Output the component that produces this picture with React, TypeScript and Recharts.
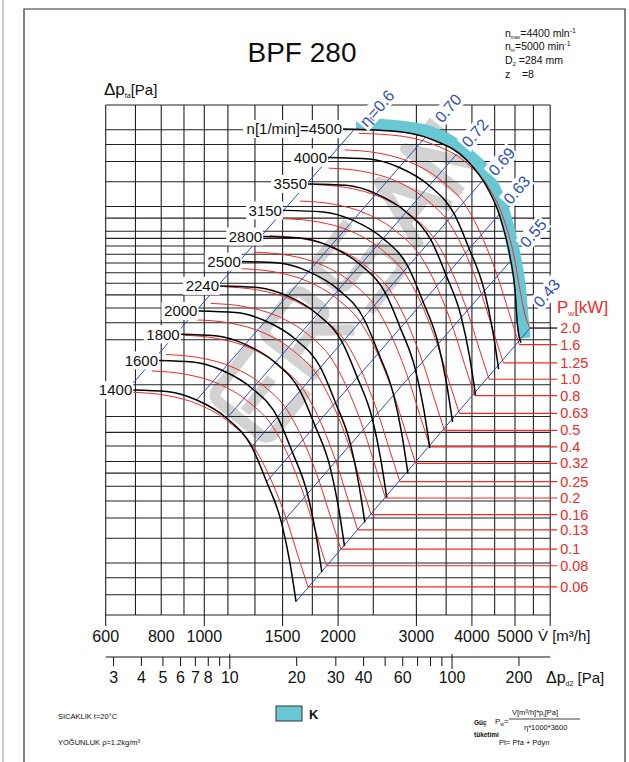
import React from 'react';
import { LineChart, Line, XAxis, YAxis, CartesianGrid, ReferenceLine, ReferenceDot } from 'recharts';

type Pt = [number, number];

// fan speed curves, points as [V m3/h, dp_fa Pa]
const n1400: Pt[] = [[692, 190.7], [823, 188.1], [961, 174.2], [1123, 147.7], [1278, 114.3], [1381, 83.3], [1493, 57.2], [1559, 39.9], [1608, 28.2]];
const n1600: Pt[] = [[791, 249.1], [941, 245.7], [1099, 227.5], [1283, 192.9], [1461, 149.3], [1578, 108.8], [1706, 74.7], [1782, 52.1], [1838, 36.8]];
const n1800: Pt[] = [[885, 315.2], [1058, 310.9], [1236, 288.0], [1444, 244.2], [1643, 188.9], [1776, 137.7], [1920, 94.6], [2004, 66.0], [2067, 46.6]];
const n2000: Pt[] = [[970, 389.2], [1176, 383.9], [1374, 355.5], [1604, 301.4], [1826, 233.3], [1973, 170.0], [2133, 116.7], [2227, 81.4], [2297, 57.6]];
const n2240: Pt[] = [[1085, 488.2], [1317, 481.5], [1538, 446.0], [1797, 378.1], [2045, 292.6], [2210, 213.2], [2389, 146.4], [2494, 102.1], [2573, 72.2]];
const n2500: Pt[] = [[1214, 608.1], [1470, 599.8], [1717, 555.5], [2005, 471.0], [2282, 364.5], [2466, 265.6], [2666, 182.4], [2784, 127.2], [2871, 89.9]];
const n2800: Pt[] = [[1356, 762.8], [1646, 752.4], [1923, 696.8], [2246, 590.8], [2556, 457.2], [2762, 333.2], [2986, 228.8], [3118, 159.6], [3216, 112.8]];
const n3150: Pt[] = [[1503, 965.4], [1852, 952.3], [2163, 881.9], [2527, 747.7], [2876, 578.6], [3107, 421.7], [3359, 289.6], [3508, 202.0], [3618, 142.8]];
const n3550: Pt[] = [[1711, 1226], [2087, 1210], [2438, 1120], [2848, 949.7], [3241, 734.9], [3502, 535.6], [3786, 367.8], [3953, 256.6], [4077, 181.3]];
const n4000: Pt[] = [[1898, 1557], [2351, 1536], [2747, 1422], [3209, 1206], [3651, 933.1], [3946, 680.0], [4266, 466.9], [4454, 325.7], [4594, 230.2]];
const n4500: Pt[] = [[2052, 2013], [2756, 1965], [3275, 1823], [3893, 1521], [4318, 1196], [4626, 912], [4872, 636], [5000, 470], [5060, 348], [5155, 292]];

const speedCurves = [
  { label: '1400', pts: n1400 },
  { label: '1600', pts: n1600 },
  { label: '1800', pts: n1800 },
  { label: '2000', pts: n2000 },
  { label: '2240', pts: n2240 },
  { label: '2500', pts: n2500 },
  { label: '2800', pts: n2800 },
  { label: '3150', pts: n3150 },
  { label: '3550', pts: n3550 },
  { label: '4000', pts: n4000 },
  { label: 'n[1/min]=4500', pts: n4500 },
];

// shaft power lines (kW)
const pw006: Pt[] = [[692, 186.8], [823, 181.5], [978, 166.5], [1143, 141.6], [1300, 111.9], [1420, 83.1], [1535, 58.4], [1625, 42.6], [1711, 32.2]];
const pw008: Pt[] = [[762, 226.3], [906, 219.9], [1076, 201.7], [1257, 171.5], [1431, 135.6], [1563, 100.7], [1689, 70.7], [1789, 51.6], [1883, 39.0]];
const pw010: Pt[] = [[820, 262.6], [976, 255.1], [1160, 234.1], [1355, 199.0], [1542, 157.3], [1684, 116.8], [1820, 82.1], [1927, 59.9], [2029, 45.3]];
const pw013: Pt[] = [[895, 312.8], [1065, 303.9], [1266, 278.8], [1478, 237.1], [1683, 187.4], [1838, 139.2], [1986, 97.8], [2103, 71.3], [2214, 53.9]];
const pw016: Pt[] = [[960, 359.2], [1141, 349.0], [1356, 320.2], [1584, 272.3], [1803, 215.2], [1969, 159.8], [2128, 112.3], [2253, 81.9], [2373, 61.9]];
const pw020: Pt[] = [[1034, 416.8], [1229, 405.0], [1461, 371.5], [1707, 316.0], [1942, 249.7], [2121, 185.4], [2293, 130.3], [2427, 95.1], [2556, 71.9]];
const pw025: Pt[] = [[1114, 483.7], [1324, 470.0], [1574, 431.1], [1838, 366.6], [2092, 289.7], [2285, 215.2], [2470, 151.2], [2615, 110.3], [2753, 83.4]];
const pw032: Pt[] = [[1209, 570.2], [1438, 554.1], [1709, 508.3], [1996, 432.3], [2272, 341.6], [2481, 253.7], [2682, 178.3], [2839, 130.0], [2990, 98.3]];
const pw040: Pt[] = [[1302, 661.7], [1549, 642.9], [1841, 589.8], [2150, 501.6], [2447, 396.4], [2673, 294.4], [2889, 206.9], [3058, 150.9], [3220, 114.1]];
const pw050: Pt[] = [[1403, 767.8], [1669, 746.1], [1983, 684.4], [2316, 582.0], [2636, 460.0], [2879, 341.6], [3112, 240.1], [3295, 175.1], [3469, 132.4]];
const pw063: Pt[] = [[1515, 895.7], [1802, 870.3], [2142, 798.4], [2502, 679.0], [2847, 536.6], [3110, 398.5], [3361, 280.0], [3558, 204.3], [3747, 154.4]];
const pw080: Pt[] = [[1641, 1050], [1952, 1021], [2319, 936.2], [2709, 796.2], [3083, 629.2], [3367, 467.3], [3639, 328.4], [3853, 239.5], [4057, 181.1]];
const pw100: Pt[] = [[1768, 1219], [2102, 1184], [2498, 1086], [2918, 923.9], [3321, 730.1], [3627, 542.2], [3921, 381.1], [4151, 278.0], [4371, 210.1]];
const pw125: Pt[] = [[1904, 1414], [2265, 1374], [2691, 1261], [3144, 1072], [3578, 847.3], [3907, 629.2], [4223, 442.2], [4472, 322.6], [4708, 243.8]];
const pw160: Pt[] = [[2067, 1667], [2459, 1620], [2922, 1486], [3413, 1264], [3885, 998.8], [4242, 741.7], [4585, 521.3], [4855, 380.2], [5112, 287.4]];
const pw200: Pt[] = [[2228, 1935], [2756, 1890], [3275, 1751], [3893, 1480], [4370, 1182], [4699, 909.3], [4974, 639.6], [5131, 470.4], [5266, 375.3], [5404, 333.6]];

const powerCurves = [
  { kw: '0.06', pts: pw006 },
  { kw: '0.08', pts: pw008 },
  { kw: '0.1', pts: pw010 },
  { kw: '0.13', pts: pw013 },
  { kw: '0.16', pts: pw016 },
  { kw: '0.2', pts: pw020 },
  { kw: '0.25', pts: pw025 },
  { kw: '0.32', pts: pw032 },
  { kw: '0.4', pts: pw040 },
  { kw: '0.5', pts: pw050 },
  { kw: '0.63', pts: pw063 },
  { kw: '0.8', pts: pw080 },
  { kw: '1.0', pts: pw100 },
  { kw: '1.25', pts: pw125 },
  { kw: '1.6', pts: pw160 },
  { kw: '2.0', pts: pw200 },
];

// efficiency lines (system parabolas)
const eta060: Pt[] = [[692, 203.1], [2173, 2004]];
const eta070: Pt[] = [[961.5, 174.2], [3134, 1858]];
const eta072: Pt[] = [[1123, 147.7], [3697, 1606]];
const eta069: Pt[] = [[1278, 114.3], [4221, 1260]];
const eta063: Pt[] = [[1381, 83.3], [4602, 930.1]];
const eta055: Pt[] = [[1493, 57.2], [4887, 611.5]];
const eta043: Pt[] = [[1608, 28.2], [5404, 333.6]];
const etaLabelAt: Pt[] = [[2443, 2427], [3539, 2427], [4064, 1937], [4667, 1498], [5044, 1160], [5497, 785], [5892, 457]];
const etaNames = ['0.6', '0.70', '0.72', '0.69', '0.63', '0.55', '0.43'];
const etaLines = [eta060, eta070, eta072, eta069, eta063, eta055, eta043];

// K zone band
const kBand: Pt[] = [[2194, 2106], [2756, 2059], [3275, 1942], [3893, 1620], [4393, 1270], [4723, 951], [4974, 663], [5131, 479], [5212, 352], [5252, 305]];

// axes
const flowGrid = [600, 700, 800, 900, 1000, 1130, 1300, 1500, 1750, 2000, 2400, 3000, 3500, 4000, 4500, 5000, 5500, 6000];
const flowLabels = [600, 800, 1000, 1500, 2000, 3000, 4000, 5000];
const flowMajor = [600, 1000, 1500, 2000, 3000, 4000, 5000, 6000];
const pressGrid = [25, 30, 35, 40, 50, 60, 70, 80, 90, 100, 115, 130, 150, 200, 300, 350, 400, 450, 500, 550, 600, 650, 700, 750, 800, 900, 1000, 1250, 1500, 1750, 2000, 2500];
const pressLabels = [30, 40, 50, 60, 80, 100, 200, 300, 400, 500, 600, 800, 1000, 1500, 2000];
const dynTicks = [3, 4, 5, 6, 7, 8, 9, 10, 20, 30, 40, 50, 60, 70, 80, 90, 100, 200];
const dynLabels = [3, 4, 5, 6, 7, 8, 10, 20, 30, 40, 60, 100, 200];

const FONT = '"Liberation Sans", Arial, Helvetica, sans-serif';
const PLOT_L = 105.7;
const LEADER_END = 6220;
const RED = '#ee2a2a';
const BLUE = '#2e4fae';
const CYAN = '#67c8d4';
const MARK = '#d2d2d2';

const LONG_Y = [1000, 100, 80, 60, 50, 40, 30];
const SHORT_Y = [2000, 1500, 800, 600, 500, 400];
const STUB_Y = [900, 700, 90, 70];

const rows = (pts: Pt[]) => pts.map(([q, p]) => ({ q, p }));

const YTick = (props: any) => {
  const { y, payload } = props;
  const v = payload.value;
  const len = LONG_Y.includes(v) ? 17 : SHORT_Y.includes(v) ? 10 : STUB_Y.includes(v) ? 9 : 0;
  return (
    <g>
      {len > 0 && <line x1={PLOT_L - len} x2={PLOT_L} y1={y} y2={y} stroke="#111" />}
      {pressLabels.includes(v) && (
        <text x={PLOT_L - Math.max(len, 13) - 1} y={y} textAnchor="end" dominantBaseline="central" fontSize={16} fontFamily={FONT} fill="#111">
          {v}
        </text>
      )}
    </g>
  );
};

const XTick = (props: any) => {
  const { x, y, payload } = props;
  const v = payload.value;
  return (
    <g>
      {flowMajor.includes(v) && <line x1={x} x2={x} y1={y} y2={y + 11} stroke="#111" />}
      {flowLabels.includes(v) && (
        <text x={x} y={y + 21} textAnchor="middle" dominantBaseline="central" fontSize={16} fontFamily={FONT} fill="#111">
          {v}
        </text>
      )}
    </g>
  );
};

const PdTick = (props: any) => {
  const { x, y, payload } = props;
  const v = payload.value;
  const big = v === 10 || v === 100;
  return (
    <g>
      <line x1={x} x2={x} y1={big ? y - 3 : y} y2={big ? y + 12 : y + 9} stroke="#111" />
      {dynLabels.includes(v) && (
        <text x={x} y={y + 20} textAnchor="middle" dominantBaseline="central" fontSize={16} fontFamily={FONT} fill="#111">
          {v}
        </text>
      )}
    </g>
  );
};

// faint logo watermark behind the chart
const Watermark = () => (
  <g transform="translate(342,288) rotate(-52) scale(0.85)" fill="none" stroke={MARK} strokeWidth={13} strokeLinejoin="round">
    <path d="M-120,-42 L-185,-42 Q-195,-42 -195,-30 L-195,30 Q-195,42 -183,42 L-120,42" />
    <path d="M-185,0 L-135,0" />
    <path d="M-100,42 L-100,-30 Q-100,-42 -88,-42 L-45,-42 Q-33,-42 -33,-30 L-33,-8 Q-33,4 -45,4 L-95,4 M-60,4 L-30,42" />
    <path d="M65,-42 L10,-42 Q-2,-42 -2,-30 L-2,-10 Q-2,2 10,2 L55,2 Q67,2 67,14 L67,30 Q67,42 55,42 L-2,42" />
    <path d="M95,42 L125,-42 L155,42 M108,12 L142,12" />
    <path d="M175,42 L175,-42 L215,42 L215,-42" />
  </g>
);

const Overlay = () => (
  <svg width={629} height={762} style={{ position: 'absolute', left: 0, top: 0 }} fontFamily={FONT}>
    <line x1={3} y1={0} x2={3} y2={762} stroke="#999" />
    <polyline points="24,762 24,9 625,9 625,762" fill="none" stroke="#333" strokeWidth={1.2} />
    <Watermark />
    <text x={302} y={62} fontSize={28} textAnchor="middle" fill="#111">BPF 280</text>
    <g fontSize={10.5} fill="#111">
      <text x={505} y={37}>n<tspan fontSize={5} dy={2}>max</tspan><tspan dy={-2}>=4400 mln</tspan><tspan fontSize={7} dy={-4}>-1</tspan></text>
      <text x={505} y={50}>n<tspan fontSize={5} dy={2}>m</tspan><tspan dy={-2}>=5000 min</tspan><tspan fontSize={7} dy={-4}>-1</tspan></text>
      <text x={505} y={64}>D<tspan fontSize={6} dy={2}>2</tspan><tspan dy={-2}> =284 mm</tspan></text>
      <text x={505} y={78} style={{ whiteSpace: 'pre' }}>z    =8</text>
    </g>
    <text x={104} y={95} fontSize={17} fill="#111">Δp<tspan fontSize={7} dy={3}>fa</tspan><tspan fontSize={15} dy={-3}>[Pa]</tspan></text>
    <text x={557} y={313} fontSize={17} fill={RED}>P<tspan fontSize={8} dy={3}>w</tspan><tspan dy={-3}>[kW]</tspan></text>
    <text x={538} y={641} fontSize={15} fill="#111">V̇ [m³/h]</text>
    <text x={546} y={683} fontSize={16} fill="#111">Δp<tspan fontSize={7} dy={3}>d2</tspan><tspan fontSize={15} dy={-3}> [Pa]</tspan></text>
    <g fontSize={7.5} fill="#111">
      <text x={58} y={719}>SICAKLIK t=20°C</text>
      <text x={58} y={745}>YOĞUNLUK ρ=1.2kg/m³</text>
    </g>
    <rect x={276} y={706} width={26} height={15} fill={CYAN} stroke="#333" />
    <text x={309} y={719} fontSize={13} fontWeight="bold" fill="#111">K</text>
    <g fill="#111">
      <text x={474} y={725} fontSize={6.5} fontWeight="bold">Güç</text>
      <text x={474} y={737} fontSize={6.5} fontWeight="bold">tüketimi</text>
      <text x={495} y={724} fontSize={8}>P<tspan fontSize={5} dy={2}>w</tspan><tspan dy={-2}>=</tspan></text>
      <text x={512} y={715} fontSize={7.5}>V[m³/h]*p<tspan fontSize={5} dy={2}>t</tspan><tspan dy={-2}>[Pa]</tspan></text>
      <line x1={509} x2={580} y1={719} y2={719} stroke="#111" strokeWidth={0.8} />
      <text x={524} y={730} fontSize={7.5}>η*1000*3600</text>
      <text x={499} y={745} fontSize={7.5}>Pt= Pfa + Pdyn</text>
    </g>
  </svg>
);

const speedLabel = (label: string) => (p: any) => {
  const w = label.length > 5 ? 97 : label.length * 8.5;
  return (
    <g>
      <rect x={p.cx - w - 3} y={p.cy - 9} width={w + 3} height={18} fill="#fff" />
      <text x={p.cx - 1} y={p.cy} textAnchor="end" dominantBaseline="central" fontSize={15} fontFamily={FONT} fill="#111">
        {label}
      </text>
    </g>
  );
};

const etaLabel = (label: string, first: boolean) => (p: any) => {
  const w = first ? 46 : 34;
  return (
    <g transform={`translate(${p.cx},${p.cy}) rotate(-49)`}>
      <rect x={-w / 2} y={-9} width={w} height={18} fill="#fff" />
      <text textAnchor="middle" dominantBaseline="central" fontSize={16} fontFamily={FONT} fill={BLUE}>
        {first ? (
          <>
            η<tspan fontSize={8} dy={3}>t</tspan>
            <tspan dy={-3}>={label}</tspan>
          </>
        ) : (
          label
        )}
      </text>
    </g>
  );
};

const kwLabel = (kw: string) => (p: any) => (
  <text x={p.cx + 3} y={p.cy} dominantBaseline="central" fontSize={14.5} fontFamily={FONT} fill={RED}>
    {kw}
  </text>
);

export default function App() {
  return (
    <div style={{ position: 'absolute', left: 0, top: 0, width: 629, height: 762, background: '#fff' }}>
      <Overlay />
      <div style={{ position: 'absolute', left: 0, top: 0 }}>
        <LineChart width={629} height={700} margin={{ top: 105, right: 78.8, bottom: 3, left: PLOT_L }}>
          <CartesianGrid stroke="#222" strokeWidth={1.1} />
          <XAxis
            dataKey="q"
            type="number"
            scale="log"
            domain={[600, 6000]}
            allowDataOverflow
            ticks={flowGrid}
            interval={0}
            tick={<XTick />}
            tickLine={false}
            axisLine={false}
            tickSize={0}
            tickMargin={0}
            height={42}
          />
          <XAxis
            xAxisId="pd"
            dataKey="q"
            type="number"
            scale="log"
            domain={[2.764, 276.5]}
            allowDataOverflow
            ticks={dynTicks}
            interval={0}
            tick={<PdTick />}
            tickLine={false}
            axisLine={{ stroke: '#111' }}
            tickSize={0}
            tickMargin={0}
            height={40}
          />
          <YAxis
            type="number"
            scale="log"
            domain={[25, 2500]}
            allowDataOverflow
            ticks={pressGrid}
            interval={0}
            tick={<YTick />}
            tickLine={false}
            axisLine={false}
            tickSize={0}
            tickMargin={0}
            width={0}
          />

          {/* invisible carrier so the dynamic-pressure axis gets a scale */}
          <Line xAxisId="pd" data={dynTicks.map((v) => ({ q: v, p: 100 }))} dataKey="p" stroke="none" dot={false} activeDot={false} isAnimationActive={false} legendType="none" />

          <Line data={rows(kBand)} dataKey="p" type="monotone" stroke={CYAN} strokeWidth={12} dot={false} activeDot={false} isAnimationActive={false} legendType="none" />

          {powerCurves.map((c) => (
            <Line key={'pw' + c.kw} data={rows(c.pts)} dataKey="p" type="monotone" stroke={RED} strokeWidth={1} dot={false} activeDot={false} isAnimationActive={false} legendType="none" />
          ))}

          {etaLines.map((pts, i) => (
            <Line key={'eta' + i} data={rows(pts)} dataKey="p" type="linear" stroke={BLUE} strokeWidth={1} dot={false} activeDot={false} isAnimationActive={false} legendType="none" />
          ))}

          {speedCurves.map((c) => (
            <Line key={'n' + c.label} data={rows(c.pts)} dataKey="p" type="monotone" stroke="#000" strokeWidth={1.5} dot={false} activeDot={false} isAnimationActive={false} legendType="none" />
          ))}

          {powerCurves.map((c) => {
            const end = c.pts[c.pts.length - 1];
            return (
              <ReferenceLine
                key={'lead' + c.kw}
                segment={[{ x: end[0], y: end[1] }, { x: LEADER_END, y: end[1] }]}
                stroke={c.kw === '2.0' ? '#000' : RED}
                strokeWidth={1.2}
                ifOverflow="visible"
              />
            );
          })}
          {powerCurves.map((c) => {
            const end = c.pts[c.pts.length - 1];
            return <ReferenceDot key={'kw' + c.kw} x={LEADER_END} y={end[1]} r={0} ifOverflow="visible" shape={kwLabel(c.kw)} />;
          })}

          {speedCurves.map((c) => (
            <ReferenceDot key={'lab' + c.label} x={c.pts[0][0]} y={c.pts[0][1]} r={0} ifOverflow="visible" shape={speedLabel(c.label)} />
          ))}

          {etaLabelAt.map((at, i) => (
            <ReferenceDot key={'etal' + i} x={at[0]} y={at[1]} r={0} ifOverflow="visible" shape={etaLabel(etaNames[i], i === 0)} />
          ))}
        </LineChart>
      </div>
    </div>
  );
}
